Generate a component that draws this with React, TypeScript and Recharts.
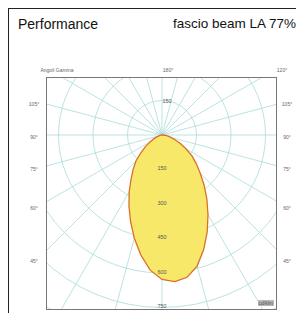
import { RadarChart, Radar, PolarGrid, PolarAngleAxis, PolarRadiusAxis } from "recharts";

// gamma angles (deg) on one side of the C-plane and intensity in cd/klm
const gammaHalf = [0, 5, 10, 15, 20, 25, 30, 35, 40, 45, 50, 55, 60, 65, 70, 75, 80, 85, 90,
  95, 100, 105, 110, 115, 120, 125, 130, 135, 140, 145, 150, 155, 160, 165, 170, 175, 180];
const cdHalf = [640, 628, 590, 530, 465, 400, 340, 285, 235, 195, 160, 120, 88, 60, 40, 24, 12, 4, 0,
  0, 0, 0, 0, 0, 0, 0, 0, 0, 0, 0, 0, 0, 0, 0, 0, 0, 0];

const ringTicks = [150, 300, 450, 600, 750, 900, 1050];
const shownRings = [150, 300, 450, 600, 750];
const topRings = [150];
const gridGamma = [0, 15, 30, 45, 60, 75, 90, 105, 120, 135, 150, 165, 180, 195, 210, 225, 240, 255, 270, 285, 300, 315, 330, 345];

const leftLabels = ["105°", "90°", "75°", "60°", "45°"];
const bottomLabels = ["30°", "15°", "0°", "15°", "30°"];

// both halves of the plane are the same curve
const data = [
  ...gammaHalf.map((g, i) => ({ g, cd: cdHalf[i] })),
  ...gammaHalf.slice(1, -1).reverse().map((g, i) => ({ g: 360 - g, cd: cdHalf[gammaHalf.length - 2 - i] })),
];

const small = { position: "absolute" as const, fontSize: 5, color: "#666", transform: "translate(-50%,-50%)", whiteSpace: "nowrap" as const };
const sideY = [96, 129, 161, 200, 253];
const bottomX = [46, 104, 154, 201, 260];

function RingTick(props: any) {
  const { x, y, payload } = props;
  const cy = props.cy ?? 57;
  if (!shownRings.includes(payload.value)) return null;
  return (
    <g fontSize={5.5} fill="#555" fontFamily="Liberation Sans, Arial, sans-serif">
      <text x={x} y={y - 1.5} textAnchor="middle" dominantBaseline="central">{payload.value}</text>
      {topRings.includes(payload.value) && (
        <text x={x + 5} y={2 * cy - y} textAnchor="middle" dominantBaseline="central">{payload.value}</text>
      )}
    </g>
  );
}

export default function App() {
  return (
    <div style={{ position: "relative", width: 288, height: 305, fontFamily: "'Liberation Sans', Arial, sans-serif" }}>
      <style>{"html,body{overflow:hidden}"}</style>
      <div style={{ position: "absolute", left: 0, top: 0, width: 288, height: 313, borderTop: "1px solid #222", borderLeft: "1px solid #222", boxSizing: "border-box" }} />
      <div style={{ position: "absolute", left: 10, top: 8, fontSize: 14, color: "#111" }}>Performance</div>
      <div style={{ position: "absolute", right: 0, top: 8, fontSize: 13.5, color: "#111", whiteSpace: "nowrap" }}>fascio beam LA 77%</div>

      <div style={{ ...small, left: 49, top: 62 }}>Angoli Gamma</div>
      <div style={{ ...small, left: 160, top: 62 }}>180°</div>
      <div style={{ ...small, left: 274, top: 62 }}>120°</div>
      {leftLabels.map((t, i) => (
        <div key={"l" + i} style={{ ...small, left: 26, top: sideY[i] }}>{t}</div>
      ))}
      {leftLabels.map((t, i) => (
        <div key={"r" + i} style={{ ...small, left: 279, top: sideY[i] }}>{t}</div>
      ))}
      {bottomLabels.map((t, i) => (
        <div key={"b" + i} style={{ ...small, left: bottomX[i], top: 309 }}>{t}</div>
      ))}

      <div style={{ position: "absolute", left: 39, top: 70, width: 229, height: 231, overflow: "hidden" }}>
        <RadarChart width={229} height={231} data={data} cx={115} cy={57} outerRadius={241.5}
          startAngle={-90} endAngle={270} margin={{ top: 0, right: 0, bottom: 0, left: 0 }}>
          <PolarGrid gridType="circle" polarAngles={gridGamma.map((g) => g - 90)} stroke="#a9dcd9" strokeWidth={0.8} />
          <PolarAngleAxis dataKey="g" tick={false} axisLine={false} tickLine={false} />
          <Radar dataKey="cd" fill="#f8e86a" fillOpacity={1} stroke="#d9702a" strokeWidth={1.3} isAnimationActive={false} />
          <PolarRadiusAxis angle={-90} domain={[0, 1050]} ticks={ringTicks} tick={<RingTick />} axisLine={false} tickLine={false} />
        </RadarChart>
        <div style={{ position: "absolute", right: 2, bottom: 3, background: "#b8b8b8", color: "#555", fontSize: 5, padding: "0 1px", lineHeight: "6px" }}>cd/klm</div>
      </div>
      <div style={{ position: "absolute", left: 38, top: 69, width: 231, height: 233, border: "1.5px solid #777", boxSizing: "border-box" }} />
    </div>
  );
}
